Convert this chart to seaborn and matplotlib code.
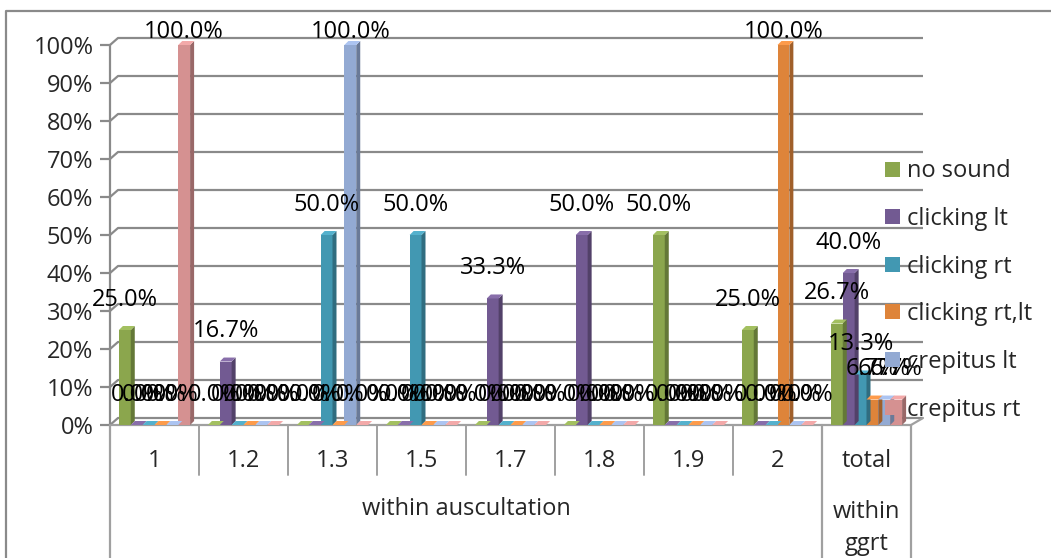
import numpy as np
import pandas as pd
import seaborn as sns
import matplotlib.pyplot as plt
import matplotlib.colors as mcolors
from matplotlib.patches import Polygon, Patch
from matplotlib.lines import Line2D

# ---- data -------------------------------------------------------------
categories = ["1", "1.2", "1.3", "1.5", "1.7", "1.8", "1.9", "2", "total"]
series = ["no sound", "clicking lt", "clicking rt", "clicking rt,lt",
          "crepitus lt", "crepitus rt"]
no_sound = [25.0, 0.0, 0.0, 0.0, 0.0, 0.0, 50.0, 25.0, 26.7]
clicking_lt = [0.0, 16.7, 0.0, 0.0, 33.3, 50.0, 0.0, 0.0, 40.0]
clicking_rt = [0.0, 0.0, 50.0, 50.0, 0.0, 0.0, 0.0, 0.0, 13.3]
clicking_rt_lt = [0.0, 0.0, 0.0, 0.0, 0.0, 0.0, 0.0, 100.0, 6.7]
crepitus_lt = [0.0, 0.0, 100.0, 0.0, 0.0, 0.0, 0.0, 0.0, 6.7]
crepitus_rt = [100.0, 0.0, 0.0, 0.0, 0.0, 0.0, 0.0, 0.0, 6.7]
group_names = ["within auscultation", "within\nggrt"]
y_ticks = [0, 10, 20, 30, 40, 50, 60, 70, 80, 90, 100]

colors = ["#8BA64D", "#725A92", "#4298B2", "#DE843A", "#93AAD3", "#D59191"]

values = [no_sound, clicking_lt, clicking_rt, clicking_rt_lt, crepitus_lt, crepitus_rt]
df = pd.DataFrame([
    {"category": c, "series": s, "value": v}
    for s, vals in zip(series, values)
    for c, v in zip(categories, vals)
])

# ---- figure -----------------------------------------------------------
sns.set_style("white")
plt.rcParams["font.family"] = ["Open Sans", "DejaVu Sans"]
FS = 17
W, H = 1051, 558
fig = plt.figure(figsize=(W / 100, H / 100), dpi=100)

# plot area in pixels
x0px, x1px, y0px, y1px = 110, 911, 425, 45
ax = fig.add_axes([x0px / W, (H - y0px) / H, (x1px - x0px) / W, (y0px - y1px) / H])
ax.set_xlim(-0.5, 8.5)
ax.set_ylim(0, 100)
for sp in ax.spines.values():
    sp.set_visible(False)

pxx = 9.0 / (x1px - x0px)      # data units per pixel (x)
pxy = 100.0 / (y0px - y1px)    # data units per pixel (y)

sns.barplot(data=df, x="category", y="value", hue="series", order=categories,
            hue_order=series, palette=colors, saturation=1, width=0.8,
            legend=False, ax=ax, zorder=3, edgecolor="none")

bars = list(ax.patches)

# back wall gridlines with perspective offset
grid_c = "#8A8A8A"
wall_dx, wall_dy = 8 * pxx, 7 * pxy
for v in y_ticks:
    ax.plot([-0.5, -0.5 + wall_dx, 8.5 + 12 * pxx], [v, v + wall_dy, v + wall_dy],
            color=grid_c, lw=1.6, clip_on=False, zorder=1, solid_capstyle="butt")
# floor front edge and right corner
ax.plot([-0.5, 8.5, 8.5 + 12 * pxx], [0, 0, wall_dy], color="#A0A0A0", lw=1.6,
        clip_on=False, zorder=1)
# value axis
ax.plot([-0.5, -0.5], [0, 100], color=grid_c, lw=1.6, clip_on=False, zorder=1)

ax.set_yticks(y_ticks)
ax.set_yticklabels([f"{t}%" for t in y_ticks], fontsize=FS)
ax.tick_params(axis="y", length=7, width=1.6, color=grid_c, pad=5, left=True)
ax.set_xticks([])
ax.set_xlabel("")
ax.set_ylabel("")

# 3-D side and top faces for each bar
bdx, bdy = 4 * pxx, 4 * pxy
for p in bars:
    x, w, h = p.get_x(), p.get_width(), p.get_height()
    base = np.array(mcolors.to_rgb(p.get_facecolor()))
    side = base * 0.72
    top = np.clip(base * 1.08 + 0.05, 0, 1)
    if h > 0:
        ax.add_patch(Polygon([(x + w, 0), (x + w, h), (x + w + bdx, h + bdy),
                              (x + w + bdx, bdy)], closed=True, fc=side, ec="none",
                             zorder=3, clip_on=False))
    ax.add_patch(Polygon([(x, h), (x + w, h), (x + w + bdx, h + bdy), (x + bdx, h + bdy)],
                         closed=True, fc=top, ec="none", zorder=3, clip_on=False))

# data labels
for p in bars:
    h = p.get_height()
    ax.text(p.get_x() + p.get_width() / 2, min(h + 8.0, 103.4), f"{h:.1f}%",
            ha="center", va="center", fontsize=FS, color="black", zorder=6,
            clip_on=False)

# category table below the axis
line_c = "#A0A0A0"
for i, c in enumerate(categories):
    ax.text(i, -(461 - y0px) * pxy, c, ha="center", va="center", fontsize=FS,
            clip_on=False)
for b in range(1, 8):
    ax.plot([b - 0.5, b - 0.5], [0, -(475 - y0px) * pxy], color=line_c, lw=1.4,
            clip_on=False)
for b in [-0.5, 7.5, 8.5]:
    ax.plot([b, b], [0, -(H - y0px + 2) * pxy], color=line_c, lw=1.6, clip_on=False)
ax.text(3.5, -(509 - y0px) * pxy, group_names[0], ha="center", va="center",
        fontsize=FS, clip_on=False)
ax.text(8, -(528 - y0px) * pxy, group_names[1], ha="center", va="center",
        fontsize=FS, linespacing=1.4, clip_on=False)

# legend
handles = [Patch(facecolor=col, edgecolor="none", label=s) for s, col in zip(series, colors)]
leg = fig.legend(handles=handles, loc="upper left", bbox_to_anchor=(876 / W, 1 - 150 / H),
                 frameon=False, fontsize=FS, handlelength=0.6, handleheight=0.6,
                 handletextpad=0.3, labelspacing=1.0, borderaxespad=0)
leg.set_zorder(10)

# outer chart border
fig.add_artist(Line2D([6 / W, 6 / W, 1.0], [0.0, 1 - 11 / H, 1 - 11 / H],
                      transform=fig.transFigure, color="#8A8A8A", lw=1.6))

fig.savefig("out.png", dpi=100)
